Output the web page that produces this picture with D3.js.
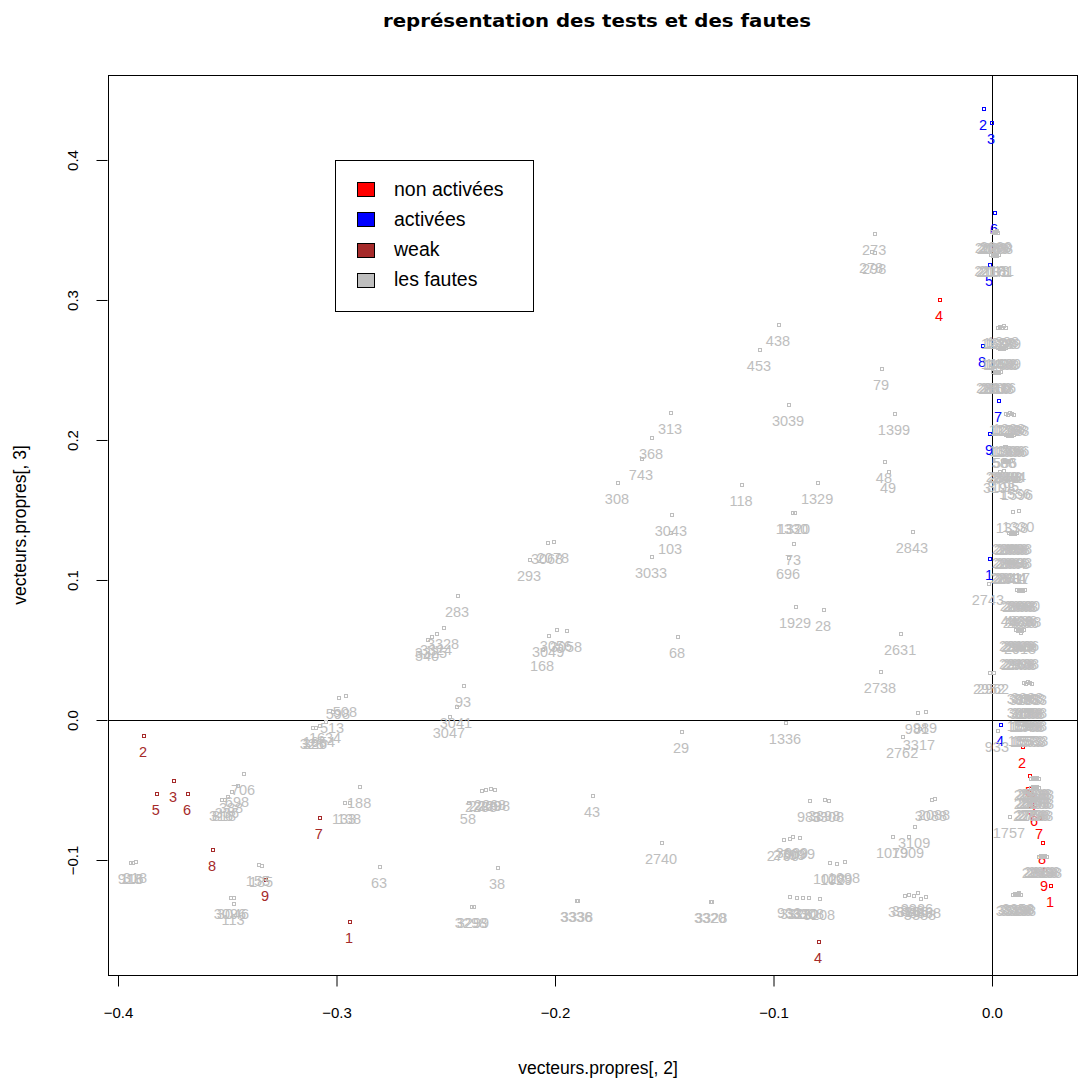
<!DOCTYPE html>
<html><head><meta charset="utf-8">
<script src="https://cdn.jsdelivr.net/npm/d3@7"></script>
<style>body{margin:0;background:#fff}</style>
</head><body>
<svg id="c" width="1078" height="1081"></svg>
<script>
// ---------- data ----------
const xTicks = [-0.4, -0.3, -0.2, -0.1, 0.0];
const yTicks = [-0.1, 0.0, 0.1, 0.2, 0.3, 0.4];

const nonActLabels = ["1","2","3","4","5","6","7","8","9"];
const nonActX = [0.0270, 0.0142, 0.0188, -0.0238, 0.0174, 0.0197, 0.0220, 0.0233, 0.0243];
const nonActY = [-0.1186, -0.0193, -0.0536, 0.3000, -0.0400, -0.0607, -0.0700, -0.0879, -0.1071];

const actLabels = ["1","2","3","4","5","6","7","8","9"];
const actX = [-0.0009, -0.0037, 0.0000, 0.0041, -0.0009, 0.0014, 0.0032, -0.0041, -0.0009];
const actY = [0.1150, 0.4364, 0.4264, -0.0036, 0.3250, 0.3621, 0.2279, 0.2671, 0.2043];

const weakLabels = ["1","2","3","4","5","6","7","8","9"];
const weakX = [-0.2938, -0.3881, -0.3744, -0.0792, -0.3822, -0.3680, -0.3076, -0.3565, -0.3323];
const weakY = [-0.1443, -0.0114, -0.0436, -0.1586, -0.0529, -0.0529, -0.0700, -0.0929, -0.1143];

const fauteLabels = [
 "273","278","298","438","453","79","3039","1399","313","368","743","308","118","1329","48","49",
 "3043","1330","1320","2843","103","3033","73","696","293","3068","2078","283","3328","3324","3325","540",
 "3056","3058","3049","168","1929","28","68","2631","2738","93","3041","3047",
 "598","508","513","1634","1654","326","328",
 "706","698","388","336","818","316","188","133","138","318","116","918","155","185","63",
 "3096","3046","113","2268","2269","2298","2288","58","43","29","2740","38","3298","3299","3336","3338",
 "1336","989","981","3317","2762","983","3398","3308","2088","3088",
 "2790","2799","3089","3099","1079","1909","3109","1028","1029","1098","3320","3328",
 "933","3326","3320","3308","3208","3316","3386","3366","3326","3388","3368",
 // right column
 "2088","2089","2098","2008","2080",
 "2118","2131","2113","2171","2181",
 "1338","1308","1390","1398","1339",
 "1468","1458","1408","1488","1409",
 "2818","2810","2880","2838","2816",
 "1258","1268","1238","1288","1298",
 "1366","1386","1306","1336","1396",
 "588","586",
 "2848","2844","2888","2840","2884",
 "3198","3195","1596","1556",
 "1338","1330",
 "2868","2888","2838","2808","2898",
 "2889","2884","2886","2868","2888",
 "2811","2841","2814","2881","2817",
 "2743",
 "2888","2808","2838","2868","2880",
 "4838","2838","4836","2836","4888",
 "2918",
 "2919","2969","2999","2909","2966",
 "2918","2968","2998","2908","2988",
 "2962","2952",
 "3683","3183","3883","3083","3383",
 "3688","3188","3888","3088","3388",
 "1518","1548","1598","1508","1588",
 "1593","1553","1573","1533","1583",
 "933",
 "2688","2588","2888","2638","2668",
 "2698","2598","2898","2678","2658",
 "2788","2758","2738","2798","2768",
 "1757",
 "2818","2888","2868","2838","2898",
 "3318","3388","3368","3338","3398","3358"
];
const fauteX = [
 -0.0535,-0.0549,-0.0535,-0.0975,-0.1062,-0.0503,-0.0929,-0.0444,-0.1469,-0.1556,-0.1602,-0.1712,-0.1144,-0.0796,-0.0490,-0.0471,
 -0.1465,-0.0911,-0.0902,-0.0362,-0.1469,-0.1556,-0.0906,-0.0929,-0.2114,-0.2032,-0.2005,-0.2444,-0.2508,-0.2540,-0.2563,-0.2581,
 -0.1991,-0.1945,-0.2027,-0.2055,-0.0897,-0.0769,-0.1437,-0.0416,-0.0508,-0.2416,-0.2449,-0.2481,
 -0.2989,-0.2957,-0.3016,-0.3048,-0.3076,-0.3094,-0.3108,
 -0.3423,-0.3451,-0.3478,-0.3497,-0.3510,-0.3524,-0.2892,-0.2961,-0.2938,-0.3918,-0.3931,-0.3941,-0.3355,-0.3341,-0.2801,
 -0.3483,-0.3469,-0.3469,-0.2293,-0.2316,-0.2275,-0.2334,-0.2394,-0.1826,-0.1419,-0.1510,-0.2261,-0.2380,-0.2371,-0.1899,-0.1895,
 -0.0943,-0.0302,-0.0339,-0.0330,-0.0407,-0.0833,-0.0764,-0.0746,-0.0261,-0.0275,
 -0.0952,-0.0924,-0.0911,-0.0879,-0.0453,-0.0380,-0.0352,-0.0741,-0.0709,-0.0673,-0.1286,-0.1281,
 -0.0924,-0.0892,-0.0865,-0.0838,-0.0787,-0.0398,-0.0380,-0.0357,-0.0339,-0.0325,-0.0302,
 0.0000,0.0009,0.0018,0.0027,0.0023,
 -0.0005,0.0005,0.0014,0.0023,0.0032,
 0.0027,0.0037,0.0046,0.0055,0.0064,
 0.0027,0.0037,0.0046,0.0055,0.0064,
 0.0005,0.0014,0.0023,0.0032,0.0041,
 0.0064,0.0073,0.0082,0.0092,0.0101,
 0.0064,0.0073,0.0082,0.0092,0.0101,
 0.0059,0.0064,
 0.0050,0.0059,0.0068,0.0078,0.0087,
 0.0037,0.0055,0.0119,0.0110,
 0.0096,0.0124,
 0.0078,0.0087,0.0096,0.0105,0.0114,
 0.0078,0.0087,0.0096,0.0105,0.0114,
 0.0069,0.0078,0.0087,0.0096,0.0105,
 -0.0014,
 0.0114,0.0124,0.0133,0.0142,0.0151,
 0.0119,0.0128,0.0137,0.0146,0.0156,
 0.0133,
 0.0110,0.0119,0.0128,0.0137,0.0146,
 0.0110,0.0119,0.0128,0.0137,0.0146,
 0.0009,-0.0009,
 0.0146,0.0156,0.0165,0.0174,0.0183,
 0.0146,0.0156,0.0165,0.0174,0.0183,
 0.0146,0.0156,0.0165,0.0174,0.0183,
 0.0151,0.0160,0.0169,0.0178,0.0188,
 0.0027,
 0.0178,0.0188,0.0197,0.0206,0.0215,
 0.0178,0.0188,0.0197,0.0206,0.0215,
 0.0174,0.0183,0.0192,0.0201,0.0211,
 0.0082,
 0.0215,0.0224,0.0233,0.0243,0.0252,
 0.0096,0.0105,0.0114,0.0124,0.0133,0.0124
];
const fauteY = [
 0.3471,0.3343,0.3336,0.2821,0.2643,0.2507,0.2250,0.2186,0.2193,0.2014,0.1864,0.1693,0.1679,0.1693,0.1843,0.1771,
 0.1464,0.1479,0.1479,0.1343,0.1336,0.1164,0.1257,0.1157,0.1143,0.1264,0.1271,0.0886,0.0657,0.0614,0.0593,0.0571,
 0.0643,0.0636,0.0600,0.0500,0.0807,0.0786,0.0593,0.0614,0.0343,0.0243,0.0093,0.0021,
 0.0157,0.0171,0.0057,-0.0014,-0.0043,-0.0057,-0.0057,
 -0.0386,-0.0471,-0.0514,-0.0550,-0.0571,-0.0571,-0.0479,-0.0593,-0.0593,-0.1014,-0.1021,-0.1021,-0.1036,-0.1043,-0.1050,
 -0.1271,-0.1271,-0.1314,-0.0493,-0.0500,-0.0500,-0.0507,-0.0593,-0.0543,-0.0086,-0.0879,-0.1057,-0.1336,-0.1336,-0.1293,-0.1293,
 -0.0021,0.0057,0.0050,-0.0064,-0.0121,-0.0579,-0.0571,-0.0579,-0.0564,-0.0571,
 -0.0857,-0.0850,-0.0836,-0.0843,-0.0836,-0.0836,-0.0764,-0.1021,-0.1029,-0.1014,-0.1300,-0.1300,
 -0.1264,-0.1271,-0.1271,-0.1271,-0.1279,-0.1257,-0.1250,-0.1257,-0.1236,-0.1279,-0.1264,
 0.3486,0.3479,0.3486,0.3479,0.3493,
 0.3321,0.3314,0.3321,0.3314,0.3321,
 0.2800,0.2807,0.2800,0.2814,0.2800,
 0.2657,0.2650,0.2657,0.2650,0.2657,
 0.2486,0.2479,0.2486,0.2479,0.2486,
 0.2186,0.2179,0.2193,0.2186,0.2179,
 0.2036,0.2029,0.2036,0.2029,0.2036,
 0.1950,0.1950,
 0.1850,0.1843,0.1850,0.1843,0.1850,
 0.1771,0.1779,0.1721,0.1729,
 0.1486,0.1493,
 0.1336,0.1329,0.1336,0.1329,0.1336,
 0.1236,0.1229,0.1236,0.1229,0.1236,
 0.1129,0.1121,0.1129,0.1121,0.1129,
 0.0971,
 0.0929,0.0921,0.0929,0.0921,0.0929,
 0.0821,0.0807,0.0821,0.0807,0.0814,
 0.0621,
 0.0643,0.0636,0.0643,0.0636,0.0643,
 0.0514,0.0507,0.0514,0.0507,0.0514,
 0.0336,0.0336,
 0.0264,0.0257,0.0271,0.0264,0.0257,
 0.0164,0.0157,0.0164,0.0157,0.0164,
 0.0071,0.0064,0.0071,0.0064,0.0071,
 -0.0036,-0.0043,-0.0036,-0.0043,-0.0036,
 -0.0079,
 -0.0421,-0.0414,-0.0421,-0.0414,-0.0421,
 -0.0486,-0.0479,-0.0486,-0.0479,-0.0486,
 -0.0571,-0.0564,-0.0571,-0.0564,-0.0571,
 -0.0693,
 -0.0979,-0.0971,-0.0979,-0.0971,-0.0979,
 -0.1250,-0.1243,-0.1250,-0.1243,-0.1250,-0.1236
];

const legendLabels = ["non activées", "activées", "weak", "les fautes"];
const legendColors = ["#FF0000", "#0000FF", "#A52A2A", "#BEBEBE"];

// ---------- drawing ----------
const svg = d3.select("#c");
const L = 108, R = 1077, T = 75, B = 975;
const x = d3.scaleLinear().domain([-0.40458, 0.03890]).range([L, R]);
const y = d3.scaleLinear().domain([-0.18214, 0.46071]).range([B, T]);
const FONT = "'Liberation Sans', Arial, sans-serif";

svg.append("rect").attr("width",1078).attr("height",1081).attr("fill","#fff");

// title
svg.append("text").attr("x", 597).attr("y", 27).attr("text-anchor","middle")
  .attr("font-family", "'DejaVu Sans', sans-serif").attr("font-weight","bold").attr("font-size", 18.5)
  .attr("textLength", 428).attr("lengthAdjust","spacingAndGlyphs")
  .text("représentation des tests et des fautes");

// zero lines
svg.append("line").attr("x1",L).attr("x2",R).attr("y1",Math.round(y(0))+0.5).attr("y2",Math.round(y(0))+0.5)
  .attr("stroke","#000").attr("stroke-width",1);
svg.append("line").attr("y1",T).attr("y2",B).attr("x1",Math.round(x(0))+0.5).attr("x2",Math.round(x(0))+0.5)
  .attr("stroke","#000").attr("stroke-width",1);

function drawGroup(labels, xs, ys, color) {
  const g = svg.append("g");
  const data = labels.map((l,i)=>({l, x: xs[i], y: ys[i]}));
  g.selectAll("rect").data(data).enter().append("rect")
    .attr("x", d => Math.round(x(d.x)) - 1.5).attr("y", d => Math.round(y(d.y)) - 1.5)
    .attr("width", 3).attr("height", 3).attr("fill","none").attr("stroke", color).attr("stroke-width",1);
  g.selectAll("text").data(data).enter().append("text")
    .attr("x", d => x(d.x) - 1).attr("y", d => y(d.y) + 21).attr("text-anchor","middle")
    .attr("font-family", FONT).attr("font-size", 14.5).attr("fill", color).text(d => d.l);
}
drawGroup(weakLabels, weakX, weakY, "#A52A2A");
drawGroup(nonActLabels, nonActX, nonActY, "#FF0000");
drawGroup(actLabels, actX, actY, "#0000FF");
drawGroup(fauteLabels, fauteX, fauteY, "#BEBEBE");

// frame
svg.append("rect").attr("x",L+0.5).attr("y",T+0.5).attr("width",R-L).attr("height",B-T)
  .attr("fill","none").attr("stroke","#000").attr("stroke-width",1);

// x axis
const xa = svg.append("g").attr("transform",`translate(0,${B+0.5})`)
  .call(d3.axisBottom(x).tickValues(xTicks).tickSize(11).tickPadding(21)
    .tickFormat(d => d === 0 ? "0.0" : d3.format(".1f")(d)));
xa.select(".domain").remove();
xa.selectAll("text").attr("font-family",FONT).attr("font-size",15).attr("fill","#000");

// y axis
const ya = svg.append("g").attr("transform",`translate(${L-0.5},0)`)
  .call(d3.axisLeft(y).tickValues(yTicks).tickSize(11).tickFormat(d => d === 0 ? "0.0" : d3.format(".1f")(d)));
ya.select(".domain").remove();
ya.selectAll(".tick text").attr("font-family",FONT).attr("font-size",15).attr("fill","#000")
  .attr("text-anchor","middle").attr("x",0).attr("y",0).attr("dy","0.35em")
  .attr("transform","translate(-35,0) rotate(-90)");

// axis titles
svg.append("text").attr("x",598).attr("y",1074).attr("text-anchor","middle")
  .attr("font-family",FONT).attr("font-size",17.5).text("vecteurs.propres[, 2]");
svg.append("text").attr("transform","translate(26,525) rotate(-90)").attr("text-anchor","middle")
  .attr("font-family",FONT).attr("font-size",17.5).text("vecteurs.propres[, 3]");

// legend
const lg = svg.append("g");
lg.append("rect").attr("x",335.5).attr("y",160.5).attr("width",198).attr("height",151)
  .attr("fill","#fff").attr("stroke","#000");
legendLabels.forEach((t,i)=>{
  const cy = 189 + i*30.3;
  lg.append("rect").attr("x",357.5).attr("y",Math.round(cy-7)+0.5).attr("width",17).attr("height",14)
    .attr("fill",legendColors[i]).attr("stroke","#000");
  lg.append("text").attr("x",394).attr("y",cy+6.5).attr("font-family",FONT).attr("font-size",19.5).text(t);
});
</script>
</body></html>
